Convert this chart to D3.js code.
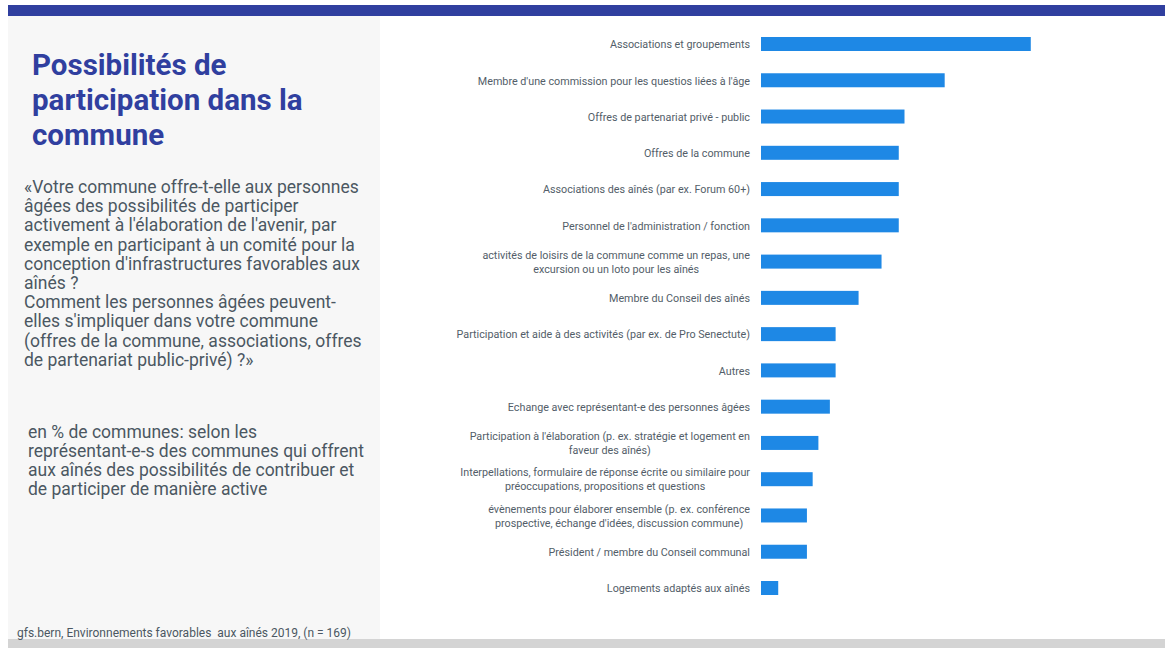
<!DOCTYPE html>
<html>
<head>
<meta charset="utf-8">
<script src="https://cdn.jsdelivr.net/npm/d3@7"></script>
<style>
  html, body { margin: 0; padding: 0; background: #fff; }
  svg { display: block; }
</style>
</head>
<body>
<svg id="chart" width="1165" height="648"></svg>
<script>
// ---- Data ----
const categories = [
  "Associations et groupements",
  "Membre d'une commission pour les questios liées à l'âge",
  "Offres de partenariat privé - public",
  "Offres de la commune",
  "Associations des aînés (par ex. Forum 60+)",
  "Personnel de l'administration / fonction",
  "activités de loisirs de la commune comme un repas, une\nexcursion ou un loto pour les aînés",
  "Membre du Conseil des aînés",
  "Participation et aide à des activités (par ex. de Pro Senectute)",
  "Autres",
  "Echange avec représentant-e des personnes âgées",
  "Participation à l'élaboration (p. ex. stratégie et logement en\nfaveur des aînés)",
  "Interpellations, formulaire de réponse écrite ou similaire pour\npréoccupations, propositions et questions",
  "évènements pour élaborer ensemble (p. ex. conférence\nprospective, échange d'idées, discussion commune)",
  "Président / membre du Conseil communal",
  "Logements adaptés aux aînés"
];
const values = [47, 32, 25, 24, 24, 24, 21, 17, 13, 13, 12, 10, 9, 8, 8, 3];

const titleLines = ["Possibilités de", "participation dans la", "commune"];
const questionLines = [
  "«Votre commune offre-t-elle aux personnes",
  "âgées des possibilités de participer",
  "activement à l'élaboration de l'avenir, par",
  "exemple en participant à un comité pour la",
  "conception d'infrastructures favorables aux",
  "aînés ?",
  "Comment les personnes âgées peuvent-",
  "elles s'impliquer dans votre commune",
  "(offres de la commune, associations, offres",
  "de partenariat public-privé) ?»"
];
const noteLines = [
  "en % de communes: selon les",
  "représentant-e-s des communes qui offrent",
  "aux aînés des possibilités de contribuer et",
  "de participer de manière active"
];
const sourceText = "gfs.bern, Environnements favorables  aux aînés 2019, (n = 169)";

// ---- Drawing ----
const svg = d3.select("#chart");
const FONT = "Roboto, 'Noto Sans', sans-serif";

// frame
svg.append("rect").attr("x", 8).attr("y", 5).attr("width", 1157).attr("height", 11).attr("fill", "#303f9f");
svg.append("rect").attr("x", 8).attr("y", 16).attr("width", 372).attr("height", 623).attr("fill", "#f7f7f7");
svg.append("rect").attr("x", 8).attr("y", 639).attr("width", 1157).attr("height", 9).attr("fill", "#d4d4d4");

// title
svg.append("text")
  .attr("font-family", FONT).attr("font-weight", 700).attr("font-size", 29.5)
  .attr("fill", "#303f9f")
  .selectAll("tspan").data(titleLines).join("tspan")
  .attr("x", 32).attr("y", (d, i) => 75 + i * 35).text(d => d);

// question
svg.append("text")
  .attr("font-family", FONT).attr("font-size", 17.5)
  .attr("fill", "#4b5762")
  .selectAll("tspan").data(questionLines).join("tspan")
  .attr("x", 24).attr("y", (d, i) => 193 + i * 19.2).text(d => d);

// note
svg.append("text")
  .attr("font-family", FONT).attr("font-size", 17.5)
  .attr("fill", "#4b5762")
  .selectAll("tspan").data(noteLines).join("tspan")
  .attr("x", 28).attr("y", (d, i) => 438 + i * 19).text(d => d);

// source
svg.append("text")
  .attr("font-family", FONT).attr("font-size", 12)
  .attr("fill", "#4b5762")
  .attr("x", 17).attr("y", 637)
  .attr("xml:space", "preserve")
  .text(sourceText);

// chart
const x = d3.scaleLinear().domain([0, 50]).range([761, 761 + 287]);
const y = d3.scalePoint().domain(categories).range([44, 588]);
const barH = 14;

svg.append("g").selectAll("rect").data(categories).join("rect")
  .attr("x", x(0))
  .attr("y", d => y(d) - barH / 2)
  .attr("width", (d, i) => x(values[i]) - x(0))
  .attr("height", barH)
  .attr("fill", "#1e88e5");

const axis = svg.append("g")
  .attr("transform", "translate(750,0)")
  .call(d3.axisLeft(y).tickSize(0).tickPadding(0));
axis.select(".domain").remove();

axis.selectAll(".tick text")
  .attr("font-family", FONT)
  .attr("font-size", 10.75)
  .attr("fill", "#535e69")
  .each(function(d) {
    const t = d3.select(this);
    const lines = d.split("\n");
    t.text(null).attr("dy", null);
    if (lines.length === 1) {
      t.append("tspan").attr("x", 0).attr("dy", "0.35em").text(lines[0]);
    } else {
      const spans = lines.map((l, i) =>
        t.append("tspan").attr("x", 0).attr("y", (i - (lines.length - 1) / 2) * 14).attr("dy", "0.35em").text(l));
      const widths = spans.map(s => s.node().getComputedTextLength());
      const maxW = d3.max(widths);
      t.attr("text-anchor", "middle");
      spans.forEach(s => s.attr("x", -maxW / 2));
    }
  });
</script>
</body>
</html>
